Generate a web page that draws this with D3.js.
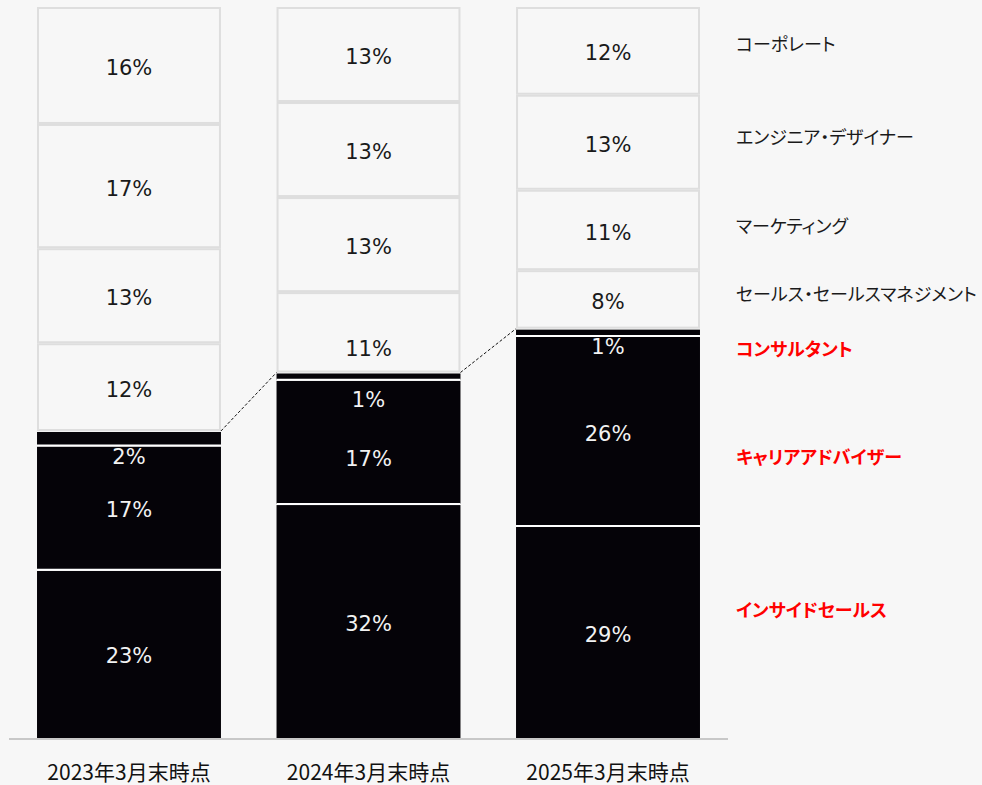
<!DOCTYPE html>
<html lang="ja">
<head>
<meta charset="utf-8">
<script src="https://cdn.jsdelivr.net/npm/d3@7"></script>
<style>
  html, body { margin: 0; padding: 0; background: #f7f7f7; }
  svg { display: block; }
  .series-name { font-feature-settings: "palt" 1; }
</style>
</head>
<body>
<div id="chart"></div>
<script>
// Composition of roles by fiscal year-end (percent of headcount)
const categories = ["2023年3月末時点", "2024年3月末時点", "2025年3月末時点"];

// Stack order: bottom to top
const seriesNames = [
  "インサイドセールス",
  "キャリアアドバイザー",
  "コンサルタント",
  "セールス・セールスマネジメント",
  "マーケティング",
  "エンジニア・デザイナー",
  "コーポレート"
];

const insideSales   = [23, 32, 29];
const careerAdvisor = [17, 17, 26];
const consultant    = [2, 1, 1];
const salesMgmt     = [12, 11, 8];
const marketing     = [13, 13, 11];
const engineering   = [17, 13, 13];
const corporate     = [16, 13, 12];

// The first three series are the highlighted (dark) group
const highlighted = ["インサイドセールス", "キャリアアドバイザー", "コンサルタント"];

const seriesValues = [insideSales, careerAdvisor, consultant, salesMgmt, marketing, engineering, corporate];

const rows = categories.map((c, i) => {
  const r = { category: c };
  seriesNames.forEach((s, k) => { r[s] = seriesValues[k][i]; });
  return r;
});

const W = 982, H = 785;
const svg = d3.select("#chart").append("svg").attr("width", W).attr("height", H);
svg.append("rect").attr("width", W).attr("height", H).attr("fill", "#f7f7f7");

const x = d3.scaleBand()
  .domain(categories)
  .range([9, 728])
  .paddingInner(0.232)
  .paddingOuter(0.117);

const y = d3.scaleLinear().domain([0, 100]).range([738, 7]);

const stack = d3.stack().keys(seriesNames);
const layers = stack(rows);

const DARK = "#050308";
const LIGHT = "#f7f7f7";

// Segments
const g = svg.append("g");
layers.forEach(layer => {
  const isDark = highlighted.includes(layer.key);
  g.selectAll(null)
    .data(layer)
    .enter()
    .append("rect")
    .attr("x", d => x(d.data.category) + (isDark ? 0 : 1))
    .attr("width", x.bandwidth() - (isDark ? 0 : 2))
    .attr("y", d => y(d[1]) + 1)
    .attr("height", d => Math.max(0, y(d[0]) - y(d[1]) - (isDark ? 1 : 2)))
    .attr("fill", isDark ? DARK : LIGHT)
    .attr("stroke", isDark ? "none" : "#dedede")
    .attr("stroke-width", 2);
});

// White separators between dark segments
layers.slice(1, 3).forEach(layer => {
  g.selectAll(null)
    .data(layer)
    .enter()
    .append("line")
    .attr("x1", d => x(d.data.category))
    .attr("x2", d => x(d.data.category) + x.bandwidth())
    .attr("y1", d => y(d[0]))
    .attr("y2", d => y(d[0]))
    .attr("stroke", "#ffffff")
    .attr("stroke-width", 2);
});

// Value labels; thin segments have their label pushed down
const labelNudge = {
  "2023年3月末時点|コンサルタント": 16,
  "2024年3月末時点|コンサルタント": 21,
  "2024年3月末時点|キャリアアドバイザー": 14,
  "2024年3月末時点|セールス・セールスマネジメント": 14,
  "2025年3月末時点|コンサルタント": 12
};
const labels = svg.append("g")
  .attr("font-family", "'DejaVu Sans', Verdana, sans-serif")
  .attr("font-size", 21)
  .attr("text-anchor", "middle");
layers.forEach(layer => {
  const isDark = highlighted.includes(layer.key);
  labels.selectAll(null)
    .data(layer)
    .enter()
    .append("text")
    .attr("x", d => x(d.data.category) + x.bandwidth() / 2)
    .attr("y", d => (y(d[0]) + y(d[1])) / 2 + 2 + (labelNudge[d.data.category + "|" + layer.key] || 0))
    .attr("dy", "0.36em")
    .attr("fill", isDark ? "#f2f2f2" : "#1a1a1a")
    .text(d => (d[1] - d[0]) + "%");
});

// Dotted connectors between tops of the dark group
const darkTop = layers[2];
const conn = svg.append("g");
for (let i = 0; i < categories.length - 1; i++) {
  const a = darkTop[i], b = darkTop[i + 1];
  conn.append("line")
    .attr("x1", x(categories[i]) + x.bandwidth())
    .attr("y1", y(a[1]))
    .attr("x2", x(categories[i + 1]))
    .attr("y2", y(b[1]))
    .attr("stroke", "#111")
    .attr("stroke-width", 1)
    .attr("stroke-dasharray", "3,2");
}

// Baseline axis
const axis = svg.append("g").attr("transform", "translate(0,739)")
  .call(d3.axisBottom(x).tickSize(0).tickPadding(26));
axis.select(".domain").attr("stroke", "#c8c8c8").attr("stroke-width", 2)
  .attr("d", "M9,0H728");
axis.selectAll(".tick text")
  .attr("font-family", "'Noto Sans CJK JP', sans-serif")
  .attr("font-size", 21)
  .attr("fill", "#111");

// Series names at right
const legendY = {
  "コーポレート": 45,
  "エンジニア・デザイナー": 138,
  "マーケティング": 227,
  "セールス・セールスマネジメント": 295,
  "コンサルタント": 350,
  "キャリアアドバイザー": 458,
  "インサイドセールス": 611
};
svg.append("g")
  .attr("font-family", "'Noto Sans CJK JP', sans-serif")
  .attr("font-size", 18)
  .selectAll("text")
  .data(seriesNames)
  .enter()
  .append("text")
  .attr("class", "series-name")
  .attr("x", 736)
  .attr("y", d => legendY[d])
  .attr("dy", "0.36em")
  .attr("fill", d => highlighted.includes(d) ? "#ff0000" : "#1a1a1a")
  .attr("font-weight", d => highlighted.includes(d) ? "bold" : "normal")
  .text(d => d);
</script>
</body>
</html>
